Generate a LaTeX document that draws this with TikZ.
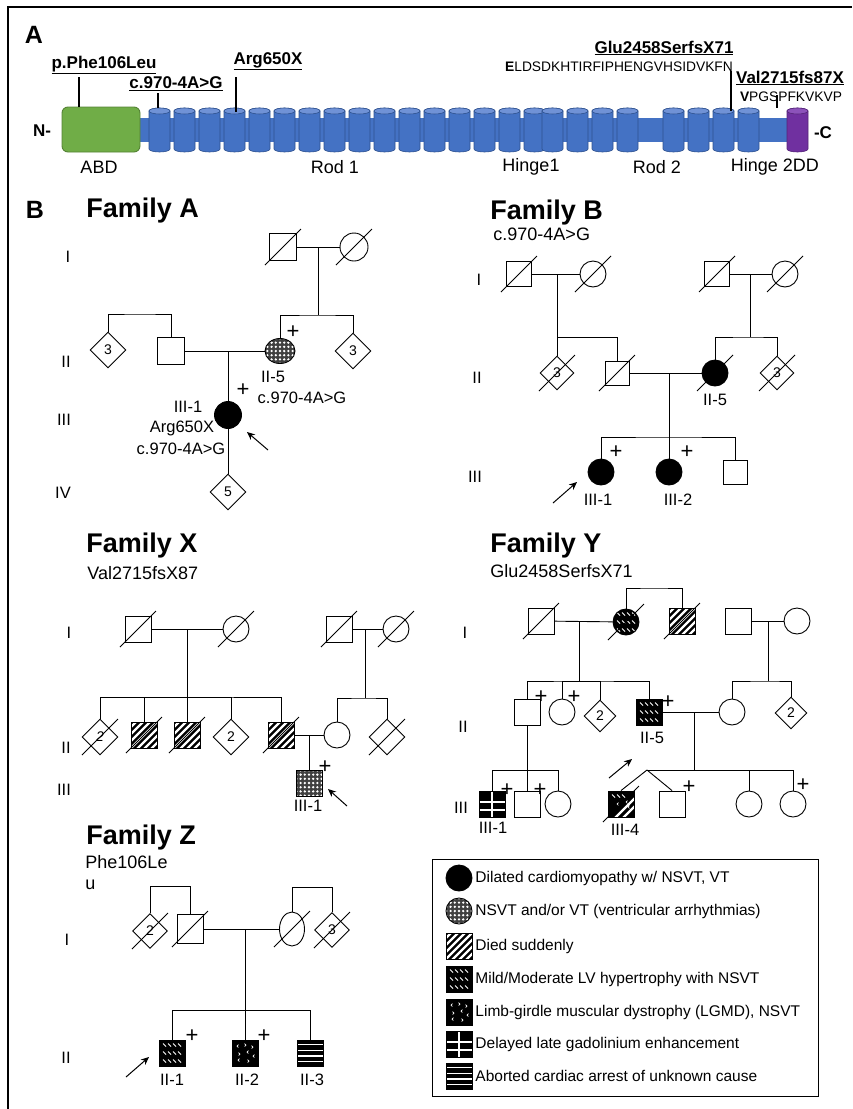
\documentclass[tikz,border=0pt]{standalone}
\usepackage{fontspec}
\setmainfont{Liberation Sans}
\usetikzlibrary{shapes.geometric,arrows.meta,calc}

\definecolor{rodblue}{RGB}{68,114,196}
\definecolor{rodtop}{RGB}{112,146,214}
\definecolor{rodedge}{RGB}{47,82,143}
\definecolor{abdgreen}{RGB}{112,173,71}
\definecolor{abdedge}{RGB}{84,130,53}
\definecolor{ddpurple}{RGB}{112,48,160}
\definecolor{ddtop}{RGB}{140,82,186}
\definecolor{ddedge}{RGB}{84,36,120}

\newcommand{\fsTitle}{\fontsize{27}{30}\selectfont\bfseries}
\newcommand{\fsPanel}{\fontsize{25}{28}\selectfont\bfseries}
\newcommand{\fsMut}{\fontsize{17}{19}\selectfont\bfseries}
\newcommand{\fsEnd}{\fontsize{17}{19}\selectfont\bfseries}
\newcommand{\fsSeq}{\fontsize{13.8}{15}\selectfont}
\newcommand{\fsDom}{\fontsize{18}{20}\selectfont}
\newcommand{\fsSub}{\fontsize{18}{20}\selectfont}
\newcommand{\fsLbl}{\fontsize{16.5}{18}\selectfont}
\newcommand{\fsPlus}{\fontsize{22}{24}\selectfont}
\newcommand{\fsNum}{\fontsize{14}{16}\selectfont}
\newcommand{\fsKey}{\fontsize{15.5}{17}\selectfont}

% one rod cylinder: left x, fill, top fill, edge
\newcommand{\cyl}[4]{%
  \filldraw[draw=#4, fill=#2, line width=0.6] (#1,111) -- (#1,149) arc[start angle=180, end angle=0, x radius=10.5, y radius=3] -- (#1+21,111) arc[start angle=0, end angle=-180, x radius=10.5, y radius=3] -- cycle;
  \filldraw[draw=#4, fill=#3, line width=0.6] (#1+10.5,111) ellipse[x radius=10.5, y radius=3];}

% path pictures are drawn with y pointing up
\tikzset{
  sq/.style={draw, rectangle, minimum width=26, minimum height=26, inner sep=0pt},
  ci/.style={draw, ellipse, minimum width=26, minimum height=26, inner sep=0pt},
  dm/.style={draw, diamond, minimum size=36, inner sep=0pt, font=\fsNum},
  dead/.style={append after command={($(\tikzlastnode.center)+(-18,18)$) edge ($(\tikzlastnode.center)+(18,-18)$)}},
  lbl/.style={font=\fsLbl, inner sep=0pt},
  plus/.style={font=\fsPlus, inner sep=0pt},
  gen/.style={font=\fsLbl, inner sep=0pt},
  title/.style={font=\fsTitle, inner sep=0pt, anchor=west},
  sub/.style={font=\fsSub, inner sep=0pt, anchor=west},
  mut/.style={font=\fsMut, inner sep=0pt},
  dom/.style={font=\fsDom, inner sep=0pt},
  keytext/.style={font=\fsKey, inner sep=0pt, anchor=west},
  mutline/.style={line width=1.5},
  proband/.style={-{Stealth[length=8pt, width=7pt]}, line width=1},
  affected/.style={fill=black},
  nsvt/.style={fill=black!75, path picture={
    \foreach \px in {-4,...,4} \foreach \py in {-4,...,4}
      \fill[white, shift={(path picture bounding box.center)}] (\px*4.2,\py*4.2) circle (1.3);}},
  sudden/.style={fill=black, path picture={
    \foreach \px in {-4,...,4}
      \draw[white, line width=2.4, shift={(path picture bounding box.center)}] (\px*7-20,-20) -- (\px*7+20,20);}},
  arrest/.style={fill=black, path picture={
    \foreach \py in {-8.4,-2.8,2.8,8.4}
      \draw[white, line width=1.4, shift={(path picture bounding box.center)}] (-20,\py) -- (20,\py);}},
  gad/.style={fill=black, path picture={
    \draw[white, line width=1.2, shift={(path picture bounding box.center)}] (0,-20) -- (0,20) (-20,2) -- (20,2) (-20,-6) -- (20,-6);}},
  lvh/.style={fill=black, path picture={
    \foreach \py in {-8,0,8} \foreach \px in {-7.5,-2.5,2.5,7.5}
      \draw[white, line width=0.8, shift={(path picture bounding box.center)}] (\px-1.5,\py+1.5) -- (\px+1.5,\py-1.5);}},
  lgmd/.style={fill=black, path picture={
    \foreach \px/\py/\ps in {-7/-7/1, 4/-8/-1, 8/-3/1, -5/-1/-1, 2/1/1, 8/6/-1, -8/7/1, 1/8/-1}
      \draw[white, line width=0.7, shift={(path picture bounding box.center)}] (\px+1.4*\ps,\py-1.4) -- (\px,\py) -- (\px+1.4*\ps,\py+1.4);}},
  mixed/.style={fill=black, path picture={
    \foreach \px in {-7.5,-2.5,2.5}
      \draw[white, line width=0.8, shift={(path picture bounding box.center)}] (\px-1.5,9.5) -- (\px+1.5,6.5);
    \foreach \px/\py in {-4/0, 5/2, 7/-3}
      \draw[white, line width=0.7, shift={(path picture bounding box.center)}] (\px+1.4,\py-1.4) -- (\px,\py) -- (\px+1.4,\py+1.4);
    \draw[white, line width=2.2, shift={(path picture bounding box.center)}] (-6,-14) -- (14,6) (2,-14) -- (14,-2);}},
}

\begin{document}
\begin{tikzpicture}[x=1pt,y=1pt,yscale=-1,line width=0.9]
\useasboundingbox (0,0) rectangle (852,1109);

% frame
\draw[line width=1.6] (8,1109) -- (8,7) -- (852,7);

%%%%%%%%%% Panel A: protein
\node[font=\fsPanel, inner sep=0pt] (panA) at (34,35) {A};
\node[font=\fsEnd, inner sep=0pt] (nterm) at (42,131) {N-};
\node[font=\fsEnd, inner sep=0pt] (cterm) at (823,133) {-C};

\fill[rodblue] (140,118) rectangle (790,142);
\draw[abdedge, fill=abdgreen, rounded corners=6] (62,107) rectangle (140,152);
\foreach \x in {149,174,...,524,542,567,592,617,663,688,713,738}
  \cyl{\x}{rodblue}{rodtop}{rodedge};
\cyl{787}{ddpurple}{ddtop}{ddedge}

% domain names
\node[dom] (dABD) at (99,167) {ABD};
\node[dom] (dRod1) at (335,167) {Rod 1};
\node[dom] (dHinge1) at (531,167) {Hinge1};
\node[dom] (dRod2) at (657,167) {Rod 2};
\node[dom] (dHinge2) at (775,167) {Hinge 2DD};

% mutations
\node[mut] (mPhe) at (104,65) {\underline{p.Phe106Leu}};
\node[mut] (mSplice) at (176,84) {\underline{c.970-4A>G}};
\node[mut] (mArg) at (268,61) {\underline{Arg650X}};
\node[mut] (mGlu) at (664,48) {\underline{Glu2458SerfsX71}};
\node[font=\fsSeq, inner sep=0pt] (sGlu) at (619,67) {\textbf{E}LDSDKHTIRFIPHENGVHSIDVKFN};
\node[mut] (mVal) at (790,78) {\underline{Val2715fs87X}};
\node[font=\fsSeq, inner sep=0pt] (sVal) at (791,97) {\textbf{V}PGSPFKVKVP};

\coordinate (pPheA) at (79,77);   \coordinate (pPheB) at (79,107);
\coordinate (pSplA) at (158,93);  \coordinate (pSplB) at (158,108);
\coordinate (pArgA) at (236,77);  \coordinate (pArgB) at (236,112);
\coordinate (pGluA) at (731,71);  \coordinate (pGluB) at (731,111);
\coordinate (pValA) at (777,95);  \coordinate (pValB) at (777,108);
\draw[mutline] (pPheA) -- (pPheB);
\draw[mutline] (pSplA) -- (pSplB);
\draw[mutline] (pArgA) -- (pArgB);
\draw[mutline] (pGluA) -- (pGluB);
\draw[mutline] (pValA) -- (pValB);

%%%%%%%%%% Panel B
\node[font=\fsPanel, inner sep=0pt] (panB) at (35,210) {B};

% Family A
\node[title] (famA) at (86,211) {Family A};
\node[gen] (gAi) at (68,257) {I};
\node[gen] (gAii) at (66,362) {II};
\node[gen] (gAiii) at (64,420) {III};
\node[gen] (gAiv) at (63,493) {IV};

\node[sq, dead, minimum size=27] (a11) at (283,247) {};
\node[ci, dead, minimum size=28] (a12) at (354,247) {};
\coordinate (a1m) at (318,247);
\coordinate (a1s) at (318,315);
\draw (a11) -- (a12);
\draw (a1m) -- (a1s);

\node[dm] (a21) at (108,350) {3};
\node[sq, minimum size=27] (a22) at (171,351) {};
\node[ci, nsvt, minimum width=30, minimum height=25] (a25) at (280,351) {};
\node[dm] (a26) at (353,351) {3};
\coordinate (a2s) at (140,314);
\draw (a21) |- (a2s) -| (a22);
\draw (a25) |- (a1s) -| (a26);
\draw (a22) -- (a25);
\node[plus] (a25p) at (293,332) {+};
\node[lbl] (a25n) at (273,377) {II-5};
\node[lbl] (a25g) at (302,398) {c.970-4A>G};

\coordinate (a2m) at (228,351);
\node[ci, affected, minimum size=27] (a31) at (228,415) {};
\draw (a2m) -- (a31);
\node[plus] (a31p) at (243,390) {+};
\node[lbl] (a31n) at (188,407) {III-1};
\node[lbl] (a31m) at (182,428) {Arg650X};
\node[lbl] (a31g) at (181,449) {c.970-4A>G};
\coordinate (a3arr) at (268,450);
\coordinate (a3tip) at (247,432);
\draw[proband] (a3arr) -- (a3tip);

\node[dm] (a41) at (228,492) {5};
\draw (a31) -- (a41);

% Family B
\node[title] (famB) at (490,213) {Family B};
\node[sub] (famBs) at (493,234) {c.970-4A>G};
\node[gen] (gBi) at (479,280) {I};
\node[gen] (gBii) at (477,378) {II};
\node[gen] (gBiii) at (475,477) {III};

\node[sq, dead, minimum size=25] (b11) at (519,274) {};
\node[ci, dead] (b12) at (593,274) {};
\coordinate (b1m) at (557,274);
\coordinate (b1s) at (557,337);
\draw (b11) -- (b12);
\draw (b1m) -- (b1s);
\node[sq, dead, minimum size=25] (b13) at (717,274) {};
\node[ci, dead] (b14) at (785,274) {};
\coordinate (b1n) at (750,274);
\coordinate (b1t) at (750,337);
\draw (b13) -- (b14);
\draw (b1n) -- (b1t);

\node[dm, dead, minimum size=34] (b21) at (557,373) {3};
\node[sq, dead, minimum size=24] (b22) at (617,373) {};
\node[ci, affected, dead] (b25) at (715,373) {};
\node[dm, dead, minimum size=34] (b26) at (777,373) {3};
\draw (b21) |- (b1s) -| (b22);
\draw (b25) |- (b1t) -| (b26);
\draw (b22) -- (b25);
\node[lbl] (b25n) at (715,400) {II-5};

\coordinate (b2m) at (669,373);
\coordinate (b2s) at (669,437);
\draw (b2m) -- (b2s);
\node[ci, affected] (b31) at (601,472) {};
\node[ci, affected] (b32) at (669,472) {};
\node[sq, minimum size=24] (b33) at (735,472) {};
\draw (b31) |- (b2s) -| (b33);
\draw (b2s) -- (b32);
\node[plus] (b31p) at (616,452) {+};
\node[plus] (b32p) at (687,452) {+};
\node[lbl] (b31n) at (598,500) {III-1};
\node[lbl] (b32n) at (678,500) {III-2};
\coordinate (b3arr) at (553,503);
\coordinate (b3tip) at (577,482);
\draw[proband] (b3arr) -- (b3tip);

% Family X
\node[title] (famX) at (86,546) {Family X};
\node[sub] (famXs) at (87,573) {Val2715fsX87};
\node[gen] (gXi) at (69,633) {I};
\node[gen] (gXii) at (66,748) {II};
\node[gen] (gXiii) at (64,790) {III};

\begin{scope}[every node/.append style={minimum width=22, minimum height=27}]
\node[sq, dead] (x11) at (138,629) {};
\node[ci, dead] (x12) at (236,629) {};
\node[sq, dead] (x13) at (339,629) {};
\node[ci, dead] (x14) at (396,629) {};
\node[sq, sudden, dead] (x22) at (144,735) {};
\node[sq, sudden, dead] (x23) at (187,735) {};
\node[sq, sudden, dead] (x25) at (281,735) {};
\node[ci] (x26) at (337,735) {};
\node[sq, nsvt, minimum height=26] (x31) at (309,783) {};
\end{scope}
\node[dm, dead, font=\fsNum\itshape] (x21) at (100,737) {2};
\node[dm] (x24) at (231,737) {2};
\node[dm, dead] (x27) at (387,737) {};

\coordinate (x1m) at (187,629);
\coordinate (x1s) at (187,697);
\draw (x11) -- (x12);
\draw (x1m) -- (x1s);
\draw (x21) |- (x1s) -| (x25);
\draw (x1s) -| (x22);
\draw (x1s) -| (x24);
\draw (x1s) -- (x23);
\coordinate (x1n) at (365,629);
\coordinate (x1t) at (365,698);
\draw (x13) -- (x14);
\draw (x1n) -- (x1t);
\draw (x26) |- (x1t) -| (x27);
\draw (x25) -- (x26);
\coordinate (x2m) at (309,735);
\draw (x2m) -- (x31);
\node[plus] (x31p) at (325,767) {+};
\node[lbl] (x31n) at (308,806) {III-1};
\coordinate (x3arr) at (347,806);
\coordinate (x3tip) at (328,789);
\draw[proband] (x3arr) -- (x3tip);

% Family Y
\node[title] (famY) at (490,546) {Family Y};
\node[sub] (famYs) at (490,571) {Glu2458SerfsX71};
\node[gen] (gYi) at (465,633) {I};
\node[gen] (gYii) at (463,727) {II};
\node[gen] (gYiii) at (461,808) {III};

\begin{scope}[every node/.append style={minimum width=22, minimum height=23}]
\node[sq, dead] (y11) at (541,621) {};
\node[ci, lvh, dead] (y12) at (626,622) {};
\node[sq, sudden, dead] (y13) at (682,621) {};
\node[sq] (y14) at (738,621) {};
\node[ci] (y15) at (797,621) {};
\node[sq] (y21) at (527,712) {};
\node[ci] (y22) at (562,712) {};
\node[sq, lvh] (y25) at (649,712) {};
\node[ci] (y26) at (732,712) {};
\node[sq, gad] (y31) at (492,804) {};
\node[sq] (y32) at (527,804) {};
\node[ci] (y33) at (558,804) {};
\node[sq, mixed, dead] (y34) at (621,804) {};
\node[sq] (y35) at (672,804) {};
\node[ci] (y36) at (749,804) {};
\node[ci] (y37) at (793,804) {};
\end{scope}
\node[dm, minimum size=32] (y23) at (600,716) {2};
\node[dm, minimum size=32] (y27) at (791,713) {2};

\coordinate (y0s) at (654,588);
\draw (y12) |- (y0s) -| (y13);
\draw (y11) -- (y12);
\coordinate (y1m) at (579,621);
\coordinate (y1s) at (579,681);
\draw (y1m) -- (y1s);
\draw (y14) -- (y15);
\coordinate (y1n) at (768,621);
\coordinate (y1t) at (768,681);
\draw (y1n) -- (y1t);
\draw (y21) |- (y1s) -| (y25);
\draw (y1s) -| (y22);
\draw (y1s) -| (y23);
\draw (y26) |- (y1t) -| (y27);
\draw (y25) -- (y26);
\node[plus] (y21p) at (541,697) {+};
\node[plus] (y22p) at (574,697) {+};
\node[plus] (y25p) at (668,702) {+};
\node[lbl] (y25n) at (652,738) {II-5};

\coordinate (y3ls) at (527,770);
\draw (y21) -- (y3ls);
\draw (y31) |- (y3ls) -| (y33);
\draw (y3ls) -- (y32);
\node[plus] (y31p) at (507,790) {+};
\node[plus] (y32p) at (540,790) {+};
\node[lbl] (y31n) at (493,828) {III-1};

\coordinate (y2m) at (694,712);
\coordinate (y3rs) at (694,770);
\coordinate (y3tw) at (647,770);
\draw (y2m) -- (y3rs);
\draw (y3tw) -- (y34.north);
\draw (y3tw) -- (y35.north);
\draw (y3tw) -- (y3rs) -| (y37);
\draw (y3rs) -| (y36);
\node[plus] (y35p) at (689,787) {+};
\node[plus] (y37p) at (803,785) {+};
\node[lbl] (y34n) at (625,830) {III-4};
\coordinate (y3arr) at (609,778);
\coordinate (y3tip) at (632,759);
\draw[proband] (y3arr) -- (y3tip);

% Family Z
\node[title] (famZ) at (86,838) {Family Z};
\node[sub] (famZs) at (85,862) {Phe106Le};
\node[sub] (famZu) at (85,885) {u};
\node[gen] (gZi) at (67,940) {I};
\node[gen] (gZii) at (66,1058) {II};

\node[dm, dead, minimum size=35] (z11) at (150,931) {2};
\node[sq, dead, minimum width=26, minimum height=29] (z12) at (190,929) {};
\node[ci, dead, minimum width=25, minimum height=34] (z13) at (292,929) {};
\node[dm, dead, minimum size=35] (z14) at (332,930) {3};
\coordinate (z0l) at (170,886);
\coordinate (z0r) at (312,887);
\draw (z11) |- (z0l) -| (z12);
\draw (z13) |- (z0r) -| (z14);
\draw (z12) -- (z13);
\coordinate (z1m) at (245,929);
\coordinate (z1s) at (245,1010);
\draw (z1m) -- (z1s);

\begin{scope}[every node/.append style={minimum width=26, minimum height=29}]
\node[sq, lvh] (z21) at (172,1053) {};
\node[sq, lgmd] (z22) at (245,1053) {};
\node[sq, arrest] (z23) at (310,1053) {};
\end{scope}
\draw (z21) |- (z1s) -| (z23);
\draw (z1s) -- (z22);
\node[plus] (z21p) at (192,1036) {+};
\node[plus] (z22p) at (264,1036) {+};
\node[lbl] (z21n) at (172,1080) {II-1};
\node[lbl] (z22n) at (247,1080) {II-2};
\node[lbl] (z23n) at (312,1080) {II-3};
\coordinate (z2arr) at (126,1077);
\coordinate (z2tip) at (149,1057);
\draw[proband] (z2arr) -- (z2tip);

%%%%%%%%%% key
\node[draw, line width=1.1, minimum width=386, minimum height=237, inner sep=0pt, anchor=north west] (key) at (432,859) {};
\begin{scope}[every node/.append style={minimum width=25, minimum height=27}]
\node[ci, affected] (k1) at (459,878) {};
\node[ci, nsvt] (k2) at (459,911) {};
\node[sq, sudden] (k3) at (459,946) {};
\node[sq, lvh] (k4) at (459,979) {};
\node[sq, lgmd] (k5) at (459,1012) {};
\node[sq, gad] (k6) at (459,1044) {};
\node[sq, arrest] (k7) at (459,1076) {};
\end{scope}
\node[keytext] (k1t) at (475,878) {Dilated cardiomyopathy w/ NSVT, VT};
\node[keytext] (k2t) at (475,911) {NSVT and/or VT (ventricular arrhythmias)};
\node[keytext] (k3t) at (475,946) {Died suddenly};
\node[keytext] (k4t) at (475,979) {Mild/Moderate LV hypertrophy with NSVT};
\node[keytext] (k5t) at (475,1012) {Limb-girdle muscular dystrophy (LGMD), NSVT};
\node[keytext] (k6t) at (475,1044) {Delayed late gadolinium enhancement};
\node[keytext] (k7t) at (475,1076) {Aborted cardiac arrest of unknown cause};

\end{tikzpicture}
\end{document}
